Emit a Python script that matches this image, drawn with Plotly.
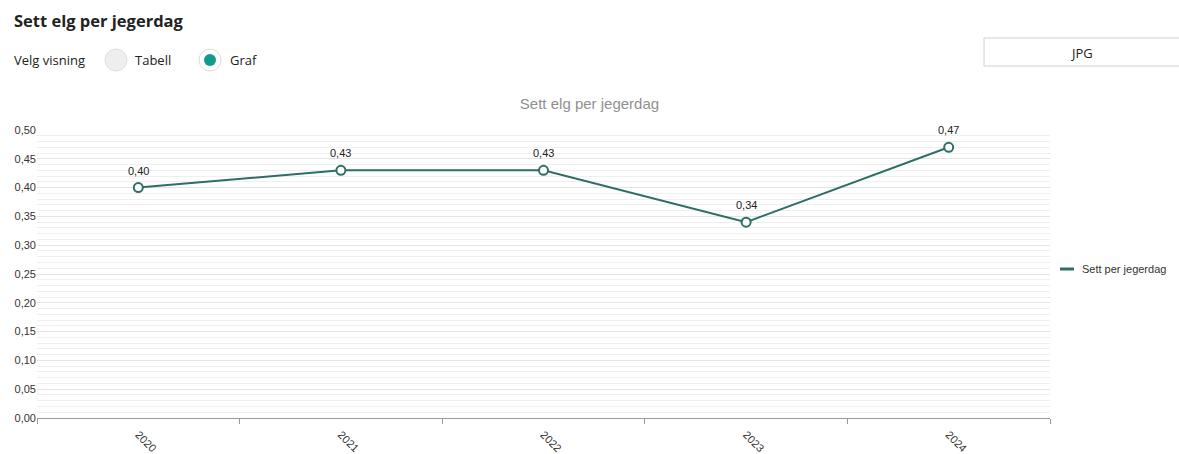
import plotly.graph_objects as go

years = ["2020", "2021", "2022", "2023", "2024"]
sett_per_jegerdag = [0.40, 0.43, 0.43, 0.34, 0.47]
y_ticks = [0.00, 0.05, 0.10, 0.15, 0.20, 0.25, 0.30, 0.35, 0.40, 0.45, 0.50]

W, H = 1179, 454
L, R, T, B = 37, 129, 130, 36
PW, PH = W - L - R, H - T - B

LINE = "#2e6e65"
TEAL = "#139a8e"


def px_x(px):
    return (px - L) / PW


def px_y(py):
    return (H - B - py) / PH


fig = go.Figure()
fig.add_trace(go.Scatter(
    x=years, y=sett_per_jegerdag, mode="lines+markers",
    line=dict(color=LINE, width=2),
    marker=dict(size=9, color="white", line=dict(color=LINE, width=2)),
    cliponaxis=False, showlegend=False, hoverinfo="x+y",
))

# data labels above the points (category index, since the years look numeric)
labels = [dict(x=i, y=v, xref="x", yref="y", text=f"{v:.2f}".replace(".", ","),
               showarrow=False, yshift=17, xanchor="center", yanchor="middle",
               font=dict(size=11, color="#222", family="Liberation Sans"))
          for i, v in enumerate(sett_per_jegerdag)]

shapes = [
    # radio: Tabell (unselected)
    dict(type="circle", xref="paper", yref="paper",
         x0=px_x(105), x1=px_x(127), y0=px_y(71), y1=px_y(49),
         fillcolor="#eeeeee", line=dict(color="#dddddd", width=1)),
    # radio: Graf (selected)
    dict(type="circle", xref="paper", yref="paper",
         x0=px_x(199), x1=px_x(221), y0=px_y(71), y1=px_y(49),
         fillcolor="white", line=dict(color="#dddddd", width=1)),
    dict(type="circle", xref="paper", yref="paper",
         x0=px_x(204), x1=px_x(216), y0=px_y(66), y1=px_y(54),
         fillcolor=TEAL, line=dict(width=0)),
    # JPG button
    dict(type="rect", xref="paper", yref="paper",
         x0=px_x(984), x1=px_x(1185), y0=px_y(66), y1=px_y(38),
         fillcolor="white", line=dict(color="#d0d0d0", width=1)),
    # legend swatch
    dict(type="line", xref="paper", yref="paper",
         x0=px_x(1060), x1=px_x(1074), y0=px_y(269), y1=px_y(269),
         line=dict(color=LINE, width=3)),
]

header = [
    dict(text="<b>Sett elg per jegerdag</b>", x=px_x(12), y=px_y(20), size=16.5, anchor="left"),
    dict(text="Velg visning", x=px_x(12), y=px_y(60), size=13, anchor="left"),
    dict(text="Tabell", x=px_x(133), y=px_y(60), size=13, anchor="left"),
    dict(text="Graf", x=px_x(228), y=px_y(60), size=13, anchor="left"),
    dict(text="JPG", x=px_x(1081), y=px_y(53), size=13, anchor="center"),
]
annotations = [dict(text=h["text"], x=h["x"], y=h["y"], xref="paper", yref="paper",
                    xanchor=h["anchor"], yanchor="middle", showarrow=False,
                    font=dict(family="Open Sans", size=h["size"], color="#222"))
               for h in header]
annotations.append(dict(text="Sett per jegerdag", x=px_x(1080), y=px_y(269), xref="paper", yref="paper",
                        xanchor="left", yanchor="middle", showarrow=False,
                        font=dict(family="Liberation Sans", size=11, color="#333")))

fig.update_layout(
    width=W, height=H,
    margin=dict(l=L, r=R, t=T, b=B, autoexpand=False),
    paper_bgcolor="white", plot_bgcolor="white",
    separators=", ",
    showlegend=False,
    font=dict(family="Liberation Sans", size=11, color="#333"),
    title=dict(text="Sett elg per jegerdag", x=0.5, xref="container", xanchor="center",
               y=1 - 104 / H, yref="container", yanchor="middle",
               font=dict(family="Liberation Sans", size=15, color="#909090")),
    xaxis=dict(type="category", range=[-0.5, 4.5], tickson="boundaries",
               ticks="outside", ticklen=5, tickcolor="#999", showgrid=False,
               showline=True, linecolor="#999", linewidth=1, tickangle=45,
               ticklabelstandoff=5,
               tickfont=dict(size=11, color="#333"), automargin=False, zeroline=False),
    yaxis=dict(range=[0, 0.5], tickvals=y_ticks, tickformat=".2f",
               gridcolor="#e3e3e3", gridwidth=1, zeroline=False, showline=False,
               minor=dict(dtick=0.01, showgrid=True, gridcolor="#efefef", gridwidth=1),
               tickfont=dict(size=11, color="#333"), automargin=False),
    shapes=shapes, annotations=annotations + labels,
)

fig.write_html("out.html", config={"displayModeBar": False},
               post_script="document.body.style.margin='0';")
